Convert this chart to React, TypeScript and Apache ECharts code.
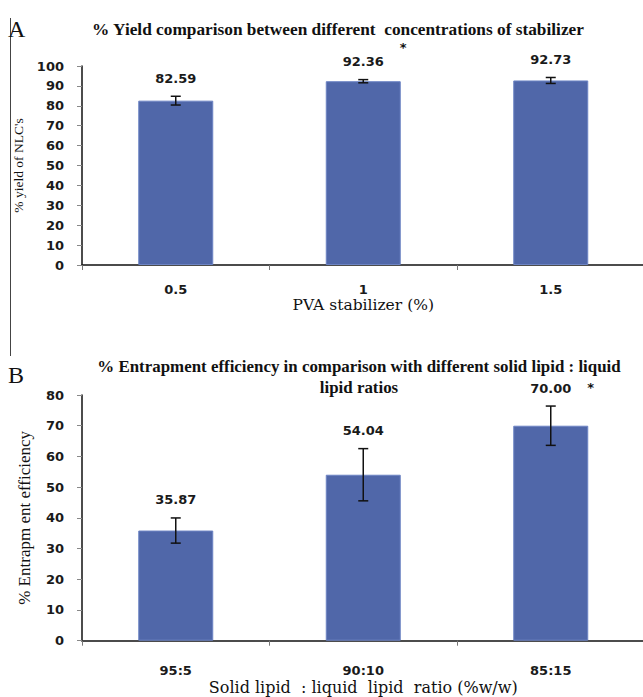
import React, { useEffect, useRef } from "react";
import * as echarts from "echarts";

const categoriesA = ["0.5", "1", "1.5"];
const valuesA = [82.59, 92.36, 92.73];
const errorsA = [2.2, 0.8, 1.5];
const significantA = [false, true, false];
const ticksA = { min: 0, max: 100, interval: 10 };

const categoriesB = ["95:5", "90:10", "85:15"];
const valuesB = [35.87, 54.04, 70.0];
const errorsB = [4.1, 8.5, 6.4];
const significantB = [false, false, true];
const ticksB = { min: 0, max: 80, interval: 10 };

const titleA = "% Yield comparison between different  concentrations of stabilizer";
const titleB1 = "% Entrapment efficiency in comparison with different solid lipid : liquid";
const titleB2 = "lipid ratios";
const xNameA = "PVA stabilizer (%)";
const yNameA = "% yield of NLC's";
const xNameB = "Solid lipid  : liquid  lipid  ratio (%w/w)";
const yNameB = "% Entrapm ent efficiency";

const BAR = "#5067a9";
const SANS = "DejaVu Sans";
const SERIF = "Liberation Serif";

function errSeries(gridIdx: number, values: number[], errors: number[], sig: boolean[], starLift: number) {
  return {
    type: "custom",
    xAxisIndex: gridIdx,
    yAxisIndex: gridIdx,
    z: 5,
    encode: { x: 0, y: 1 },
    data: values.map((v, i) => [i, v, errors[i]]),
    renderItem: (params: any, api: any) => {
      const i = api.value(0);
      const v = api.value(1);
      const e = api.value(2);
      const top = api.coord([i, v + e]);
      const bot = api.coord([i, v - e]);
      const x = top[0];
      const half = 5;
      const st = { stroke: "#111", lineWidth: 1.5 };
      const children: any[] = [
        { type: "line", shape: { x1: x, y1: top[1], x2: x, y2: bot[1] }, style: st },
        { type: "line", shape: { x1: x - half, y1: top[1], x2: x + half, y2: top[1] }, style: st },
        { type: "line", shape: { x1: x - half, y1: bot[1], x2: x + half, y2: bot[1] }, style: st },
        {
          type: "text",
          x: x,
          y: top[1] - 18,
          style: {
            text: values[params.dataIndex].toFixed(2),
            align: "center",
            verticalAlign: "middle",
            font: `bold 13px "${SANS}"`,
            fill: "#1a1a1a",
          },
        },
      ];
      if (sig[params.dataIndex]) {
        children.push({
          type: "text",
          x: x + 40,
          y: top[1] - starLift,
          style: { text: "*", align: "center", verticalAlign: "middle", font: `bold 13px "${SANS}"`, fill: "#111" },
        });
      }
      return { type: "group", children };
    },
  };
}

function xAxis(gridIdx: number, cats: string[], name: string, nameGap: number, nameSize: number, margin: number) {
  return {
    type: "category",
    gridIndex: gridIdx,
    data: cats,
    name,
    nameLocation: "middle",
    nameGap,
    nameTextStyle: { fontFamily: "DejaVu Serif", fontSize: nameSize, color: "#111" },
    axisLine: { show: true, lineStyle: { color: "#111", width: 1.5 } },
    axisTick: { show: true, length: 5, lineStyle: { color: "#777" } },
    axisLabel: { fontFamily: SANS, fontWeight: "bold", fontSize: 13, color: "#1a1a1a", margin },
  };
}

function yAxis(gridIdx: number, t: any, name: string, nameSize: number, nameGap: number) {
  return {
    type: "value",
    gridIndex: gridIdx,
    min: t.min,
    max: t.max,
    interval: t.interval,
    name,
    nameLocation: "middle",
    nameGap,
    nameRotate: 90,
    nameTextStyle: { fontFamily: SERIF, fontSize: nameSize, color: "#111" },
    splitLine: { show: false },
    axisLine: { show: true, lineStyle: { color: "#111", width: 1.5 } },
    axisTick: { show: true, length: 5, lineStyle: { color: "#888" } },
    axisLabel: { fontFamily: SANS, fontWeight: "bold", fontSize: 13, color: "#1a1a1a", margin: 18 },
  };
}

export default function App() {
  const ref = useRef<HTMLDivElement>(null);
  useEffect(() => {
    if (!ref.current) return;
    const chart = echarts.init(ref.current, null, { renderer: "svg" });
    const barStyle = { color: BAR, borderColor: "#6d84c4", borderWidth: 1 };
    const titleFont = `bold 16.9px "${SERIF}"`;
    chart.setOption({
      animation: false,
      backgroundColor: "#fff",
      grid: [
        { left: 82, top: 66, width: 562.5, height: 199, outerBoundsMode: "none", containLabel: false },
        { left: 82, top: 395, width: 562.5, height: 245.7, outerBoundsMode: "none", containLabel: false },
      ],
      xAxis: [xAxis(0, categoriesA, xNameA, 28, 15.5, 18), xAxis(1, categoriesB, xNameB, 39, 16, 23)],
      yAxis: [yAxis(0, ticksA, yNameA, 13.5, 47), yAxis(1, ticksB, yNameB, 17, 49)],
      series: [
        { type: "bar", xAxisIndex: 0, yAxisIndex: 0, data: valuesA, barWidth: "40%", itemStyle: barStyle },
        { type: "bar", xAxisIndex: 1, yAxisIndex: 1, data: valuesB, barWidth: "40%", itemStyle: barStyle },
        errSeries(0, valuesA, errorsA, significantA, 32),
        errSeries(1, valuesB, errorsB, significantB, 19),
      ],
      graphic: [
        { type: "line", shape: { x1: 10.5, y1: 18, x2: 10.5, y2: 356 }, style: { stroke: "#444", lineWidth: 1 } },
        { type: "text", left: 8, top: 17, style: { text: "A", font: `24px "${SERIF}"`, fill: "#111" } },
        { type: "text", left: 8, top: 363, style: { text: "B", font: `24px "${SERIF}"`, fill: "#111" } },
        {
          type: "text",
          x: 338,
          y: 29,
          style: { text: titleA, align: "center", verticalAlign: "middle", font: `bold 17.3px "${SERIF}"`, fill: "#111" },
        },
        {
          type: "text",
          x: 359,
          y: 366,
          style: { text: titleB1, align: "center", verticalAlign: "middle", font: titleFont, fill: "#111" },
        },
        {
          type: "text",
          x: 359,
          y: 387,
          style: { text: titleB2, align: "center", verticalAlign: "middle", font: titleFont, fill: "#111" },
        },
      ],
    });
    return () => chart.dispose();
  }, []);
  return <div ref={ref} style={{ position: "absolute", left: 0, top: 0, width: 643, height: 697 }} />;
}
